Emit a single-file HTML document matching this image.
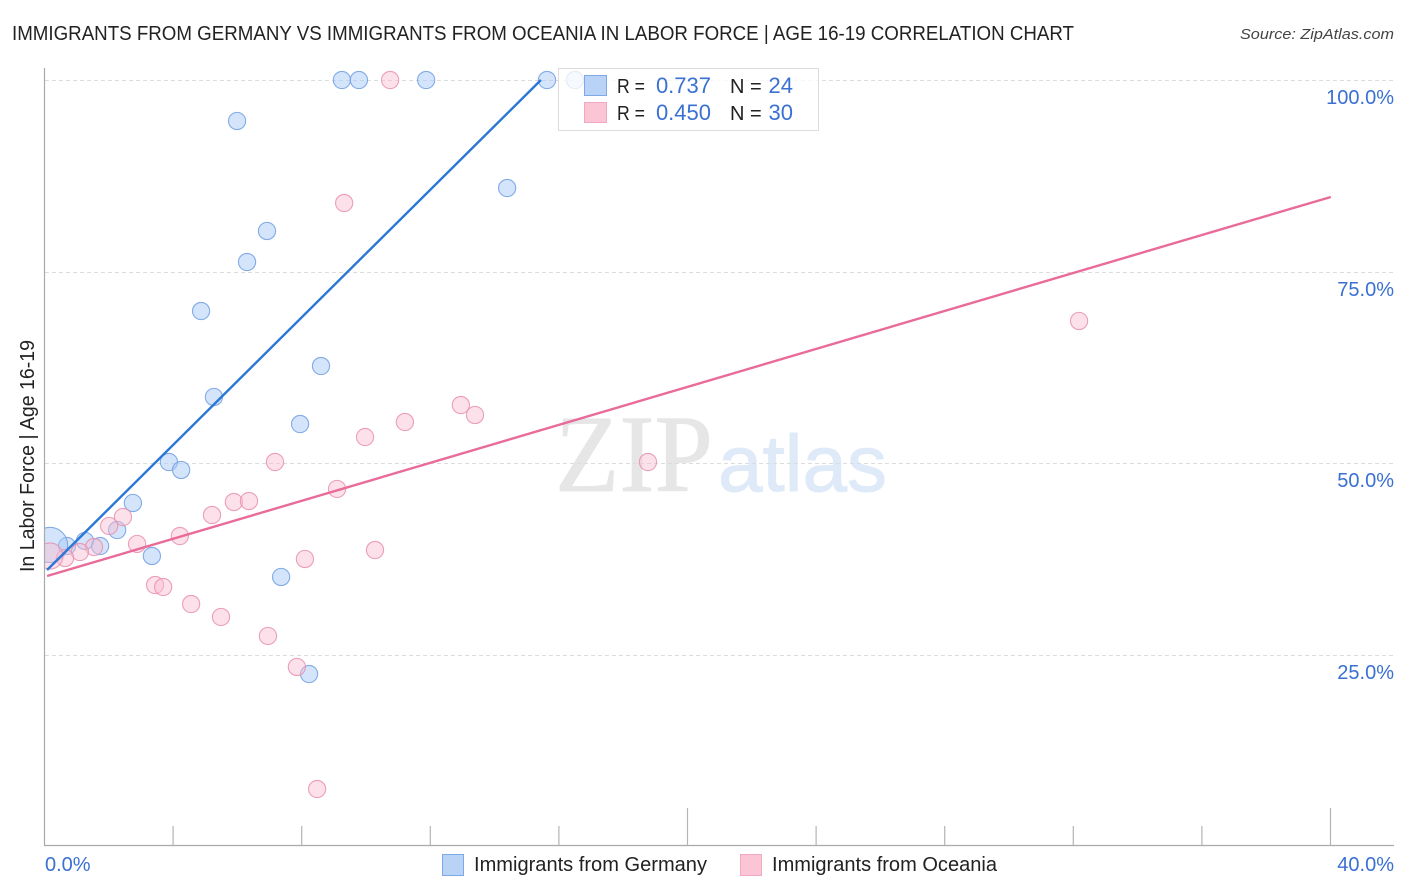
<!DOCTYPE html>
<html lang="en">
<head>
<meta charset="utf-8">
<title>Immigrants from Germany vs Immigrants from Oceania in Labor Force | Age 16-19 Correlation Chart</title>
<style>
html,body{margin:0;padding:0;background:#fff;width:1406px;height:892px;overflow:hidden}
svg{display:block;font-family:"Liberation Sans",sans-serif}
</style>
</head>
<body>
<svg id="chart" xmlns="http://www.w3.org/2000/svg" width="1406" height="892" viewBox="0 0 1406 892">
  <text x="12" y="40" font-size="20" fill="#222" textLength="1062" lengthAdjust="spacingAndGlyphs">IMMIGRANTS FROM GERMANY VS IMMIGRANTS FROM OCEANIA IN LABOR FORCE | AGE 16-19 CORRELATION CHART</text>
  <text x="1394" y="39" font-size="15" font-style="italic" fill="#444" text-anchor="end" textLength="154" lengthAdjust="spacingAndGlyphs">Source: ZipAtlas.com</text>
  <text x="555" y="491" font-size="110" fill="#e6e6e6" stroke="#e6e6e6" stroke-width="0.8" style="font-family:'Liberation Serif',serif" textLength="158" lengthAdjust="spacingAndGlyphs">ZIP</text>
  <text x="718" y="491" font-size="80" fill="#dfeaf9" stroke="#dfeaf9" stroke-width="1" textLength="169" lengthAdjust="spacingAndGlyphs">atlas</text>
  <g id="grid"></g>
  <g id="marks"></g>
  <rect x="0" y="60" width="44" height="786" fill="#fff"/>
  <g id="axes"></g>
  <g id="lines"></g>
  <text transform="translate(34,572) rotate(-90)" font-size="20" fill="#222" textLength="232" lengthAdjust="spacingAndGlyphs">In Labor Force | Age 16-19</text>

  <g>
    <rect x="558.5" y="68.5" width="260" height="62" fill="#fff" fill-opacity="0.78" stroke="#dcdcdc"/>
    <rect x="584.5" y="75.5" width="22" height="20" fill="#b9d3f7" stroke="#7fa9e6"/>
    <rect x="584.5" y="102.5" width="22" height="20" fill="#fcc5d6" stroke="#f1a9c0"/>
    <text x="617" y="93" font-size="20" fill="#222" textLength="28" lengthAdjust="spacingAndGlyphs">R =</text>
    <text x="711" y="93" font-size="22" fill="#3a70d2" text-anchor="end">0.737</text>
    <text x="730" y="93" font-size="20" fill="#222">N =</text>
    <text x="793" y="93" font-size="22" fill="#3a70d2" text-anchor="end">24</text>
    <text x="617" y="120" font-size="20" fill="#222" textLength="28" lengthAdjust="spacingAndGlyphs">R =</text>
    <text x="711" y="120" font-size="22" fill="#3a70d2" text-anchor="end">0.450</text>
    <text x="730" y="120" font-size="20" fill="#222">N =</text>
    <text x="793" y="120" font-size="22" fill="#3a70d2" text-anchor="end">30</text>
  </g>

  <g>
    <rect x="442.5" y="854.5" width="21" height="21" fill="#b9d3f7" stroke="#7fa9e6"/>
    <text x="474" y="871" font-size="20" fill="#222" textLength="233" lengthAdjust="spacingAndGlyphs">Immigrants from Germany</text>
    <rect x="740.5" y="854.5" width="21" height="21" fill="#fcc5d6" stroke="#f1a9c0"/>
    <text x="772" y="871" font-size="20" fill="#222" textLength="225" lengthAdjust="spacingAndGlyphs">Immigrants from Oceania</text>
  </g>
</svg>
<script>
const xTickValues = [0, 4, 8, 12, 16, 20, 24, 28, 32, 36, 40];
const xMajorTicks = [20, 40];
const xEndLabels = ["0.0%", "40.0%"];
const yTickValues = [100, 75, 50, 25];
const yTickLabels = ["100.0%", "75.0%", "50.0%", "25.0%"];

const germanyX = [9.25, 9.78, 11.87, 15.63, 16.50, 5.99, 14.39, 6.92, 6.30, 4.87, 8.60, 5.27, 7.95, 3.87, 4.25, 2.75, 2.26, 1.26, 0.70, 1.73, 3.34, 7.36, 8.23, 0.17];
const germanyY = [100, 100, 100, 100, 100, 94.65, 85.90, 80.29, 76.24, 69.84, 62.66, 58.62, 55.09, 50.13, 49.09, 44.78, 41.25, 39.82, 39.16, 39.16, 37.86, 35.12, 22.45, 39.30];
const germanyWeight = [1, 1, 1, 1, 1, 1, 1, 1, 1, 1, 1, 1, 1, 1, 1, 1, 1, 1, 1, 1, 1, 1, 1, 4.2];

const oceaniaX = [10.75, 9.32, 32.18, 12.95, 13.39, 11.21, 9.97, 7.17, 18.77, 9.10, 5.89, 6.36, 5.21, 2.44, 2.01, 4.21, 2.88, 10.28, 1.54, 1.10, 0.64, 8.10, 0.17, 3.44, 3.69, 4.56, 5.49, 6.95, 7.85, 8.48];
const oceaniaY = [100, 83.94, 68.54, 57.57, 56.27, 55.35, 53.39, 50.13, 50.13, 46.61, 44.91, 45.04, 43.21, 42.95, 41.78, 40.47, 39.43, 38.64, 39.03, 38.38, 37.60, 37.47, 37.86, 34.07, 33.81, 31.59, 29.90, 27.42, 23.37, 7.44];
const oceaniaWeight = [1, 1, 1, 1, 1, 1, 1, 1, 1, 1, 1, 1, 1, 1, 1, 1, 1, 1, 1, 1, 1, 1, 2.3, 1, 1, 1, 1, 1, 1, 1];

const germanyTrendX = [0.08, 15.44];
const germanyTrendY = [36.03, 100];
const oceaniaTrendX = [0.08, 40.01];
const oceaniaTrendY = [35.25, 84.73];

const NS = 'http://www.w3.org/2000/svg';
function xScale(v) { return 44.5 + v * 32.15; }
function yScale(v) { return 846 - v * 7.66; }
function rScale(w) { return 8.6 * Math.sqrt(w); }
function make(parent, tag, attrs) {
  const el = document.createElementNS(NS, tag);
  for (const k in attrs) el.setAttribute(k, attrs[k]);
  parent.appendChild(el);
  return el;
}

const grid = document.getElementById('grid');
const axes = document.getElementById('axes');
const marks = document.getElementById('marks');
const lines = document.getElementById('lines');

yTickValues.forEach(function (v, i) {
  const y = Math.round(yScale(v)) + 0.5;
  const line = make(grid, 'line', { x1: 45, x2: 1394, y1: y, y2: y, stroke: '#dcdcdc', 'stroke-width': 1, 'stroke-dasharray': '4 3' });
  
  
  const label = make(axes, 'text', { x: 1394, y: y + 23.5, 'font-size': 20, fill: '#3a70d2', 'text-anchor': 'end' });
  
  
  label.textContent = yTickLabels[i];
});

const yAxis = make(axes, 'line', { x1: 44.5, x2: 44.5, y1: 68, y2: 846, stroke: '#aaaaaa', 'stroke-width': 1.2 });


const xAxis = make(axes, 'line', { x1: 44, x2: 1394, y1: 845.5, y2: 845.5, stroke: '#aaaaaa', 'stroke-width': 1.2 });



xTickValues.forEach(function (v) {
  if (v === 0) return;
  const x = xScale(v);
  const top = xMajorTicks.indexOf(v) >= 0 ? 808 : 826;
  const tick = make(axes, 'line', { x1: x, x2: x, y1: top, y2: 845, stroke: '#b4b4b4', 'stroke-width': 1.2 });
  
  
});

const xLabelLeft = make(axes, 'text', { x: 45, y: 871, 'font-size': 20, fill: '#3a70d2' });


xLabelLeft.textContent = xEndLabels[0];
const xLabelRight = make(axes, 'text', { x: 1394, y: 871, 'font-size': 20, fill: '#3a70d2', 'text-anchor': 'end' });


xLabelRight.textContent = xEndLabels[1];

germanyX.forEach(function (v, i) {
  const c = make(marks, 'circle', { cx: xScale(v), cy: yScale(germanyY[i]), r: rScale(germanyWeight[i]), fill: '#a9c9f5', 'fill-opacity': 0.5, stroke: '#6f9fe3', 'stroke-opacity': 0.85, 'stroke-width': 1.1 });
  
  
});
oceaniaX.forEach(function (v, i) {
  const c = make(marks, 'circle', { cx: xScale(v), cy: yScale(oceaniaY[i]), r: rScale(oceaniaWeight[i]), fill: '#fbbdd0', 'fill-opacity': 0.45, stroke: '#e88fae', 'stroke-opacity': 0.85, 'stroke-width': 1.1 });
  
  
});

const germanyLine = make(lines, 'line', { x1: xScale(germanyTrendX[0]), y1: yScale(germanyTrendY[0]), x2: xScale(germanyTrendX[1]), y2: yScale(germanyTrendY[1]), stroke: '#2b77d6', 'stroke-width': 2.4 });


const oceaniaLine = make(lines, 'line', { x1: xScale(oceaniaTrendX[0]), y1: yScale(oceaniaTrendY[0]), x2: xScale(oceaniaTrendX[1]), y2: yScale(oceaniaTrendY[1]), stroke: '#e96b9a', 'stroke-width': 2.4 });


</script>
</body>
</html>
